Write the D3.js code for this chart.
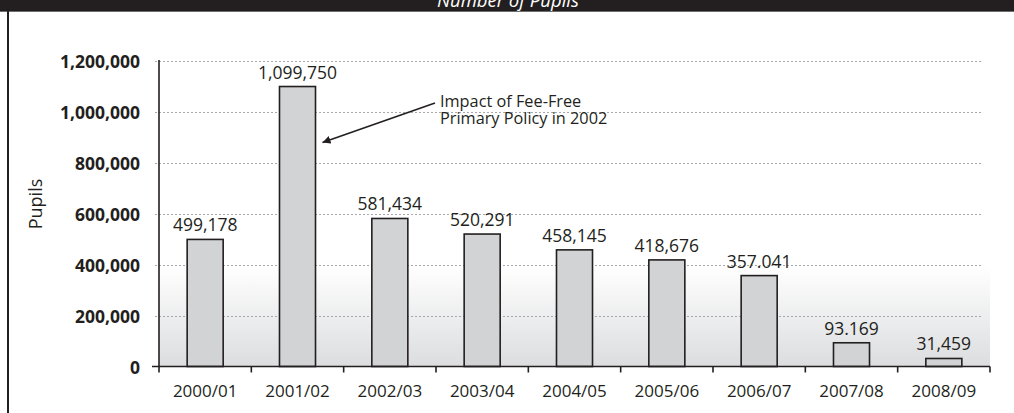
<!DOCTYPE html>
<html><head><meta charset="utf-8">
<script src="https://cdn.jsdelivr.net/npm/d3@7"></script>
<style>
html,body{margin:0;padding:0;background:#fff;}
svg{display:block;font-family:"Open Sans",sans-serif;}
</style></head>
<body>
<svg id="c" width="1014" height="413"></svg>
<script>
const categories = ["2000/01","2001/02","2002/03","2003/04","2004/05","2005/06","2006/07","2007/08","2008/09"];
const pupils = [499178,1099750,581434,520291,458145,418676,357041,93169,31459];
const valueLabels = ["499,178","1,099,750","581,434","520,291","458,145","418,676","357.041","93.169","31,459"];
const yTicks = [0,200000,400000,600000,800000,1000000,1200000];
const titleText = "Number of Pupils";
const yTitle = "Pupils";
const annotationLines = ["Impact of Fee-Free","Primary Policy in 2002"];

const dark = "#231f20";
const svg = d3.select("#c");
const L = 159, R = 990, T = 61, B = 366.5;

const x = d3.scaleBand().domain(categories).range([L, R]).paddingInner(0.61).paddingOuter(0.305);
const band = (R - L) / categories.length;
const y = d3.scaleLinear().domain([0, 1200000]).range([B, T]);

// title bar
svg.append("rect").attr("x",0).attr("y",0).attr("width",1014).attr("height",11).attr("fill",dark);
svg.append("line").attr("x1",0).attr("x2",1014).attr("y1",11.5).attr("y2",11.5).attr("stroke","#6d6e70").attr("stroke-width",1);
svg.append("text").attr("x",508).attr("y",7).attr("text-anchor","middle").attr("fill","#fff")
  .attr("font-style","italic").attr("font-size",18.5).text(titleText);
// left border
svg.append("line").attr("x1",8).attr("x2",8).attr("y1",11).attr("y2",413).attr("stroke",dark).attr("stroke-width",2);

// gradient background
const defs = svg.append("defs");
const g = defs.append("linearGradient").attr("id","bg").attr("x1",0).attr("x2",0).attr("y1",0).attr("y2",1);
g.append("stop").attr("offset","0%").attr("stop-color","#ffffff");
g.append("stop").attr("offset","100%").attr("stop-color","#dcdddf");
svg.append("rect").attr("x",L).attr("y",266).attr("width",R-L).attr("height",B-266).attr("fill","url(#bg)");

// gridlines
svg.append("g").selectAll("line").data(yTicks.filter(d=>d>0)).join("line")
  .attr("x1",155).attr("x2",982).attr("y1",d=>Math.round(y(d))+0.5).attr("y2",d=>Math.round(y(d))+0.5)
  .attr("stroke","#a7a9ac").attr("stroke-width",1).attr("stroke-dasharray","2,2");

// y tick labels
svg.append("g").selectAll("text").data(yTicks).join("text")
  .attr("x",140).attr("y",d=>y(d)+7).attr("text-anchor","end").attr("font-weight",700)
  .attr("font-size",17.5).attr("fill",dark).text(d=>d3.format(",")(d));

// y title
svg.append("text").attr("transform","translate(42,204) rotate(-90)").attr("text-anchor","middle")
  .attr("font-size",18).attr("fill",dark).text(yTitle);

// bars
svg.append("g").selectAll("rect").data(pupils).join("rect")
  .attr("x",(d,i)=>x(categories[i])).attr("y",d=>y(d)).attr("width",x.bandwidth()).attr("height",d=>B-y(d))
  .attr("fill","#d1d3d4").attr("stroke",dark).attr("stroke-width",1.6);

// value labels
svg.append("g").selectAll("text").data(pupils).join("text")
  .attr("x",(d,i)=>x(categories[i])+x.bandwidth()/2).attr("y",d=>y(d)-8).attr("text-anchor","middle")
  .attr("font-size",17.5).attr("fill",dark).text((d,i)=>valueLabels[i]);

// axes
svg.append("line").attr("x1",152).attr("x2",R).attr("y1",B).attr("y2",B).attr("stroke",dark).attr("stroke-width",1.6);
svg.append("line").attr("x1",L).attr("x2",L).attr("y1",T-1).attr("y2",B+6).attr("stroke",dark).attr("stroke-width",1.6);
svg.append("g").selectAll("line").data(d3.range(1,categories.length+1)).join("line")
  .attr("x1",i=>L+i*band).attr("x2",i=>L+i*band).attr("y1",B).attr("y2",B+6)
  .attr("stroke",dark).attr("stroke-width",1.6);

// x labels
svg.append("g").selectAll("text").data(categories).join("text")
  .attr("x",d=>x(d)+x.bandwidth()/2).attr("y",397).attr("text-anchor","middle")
  .attr("font-size",17).attr("fill",dark).text(d=>d);

// annotation
defs.append("marker").attr("id","arr").attr("viewBox","0 0 10 10").attr("refX",10).attr("refY",5)
  .attr("markerWidth",8).attr("markerHeight",8).attr("orient","auto").attr("markerUnits","userSpaceOnUse")
  .append("path").attr("d","M0,0L10,5L0,10z").attr("fill",dark);
const ax = x(categories[1]) + x.bandwidth();
svg.append("line").attr("x1",435).attr("y1",103).attr("x2",ax+7).attr("y2",142.5)
  .attr("stroke",dark).attr("stroke-width",1.6).attr("marker-end","url(#arr)");
svg.append("text").attr("x",440).attr("y",107).attr("font-size",16.3).attr("fill",dark)
  .selectAll("tspan").data(annotationLines).join("tspan").attr("x",440).attr("dy",(d,i)=>i?16.5:0).text(d=>d);
</script>
</body></html>
